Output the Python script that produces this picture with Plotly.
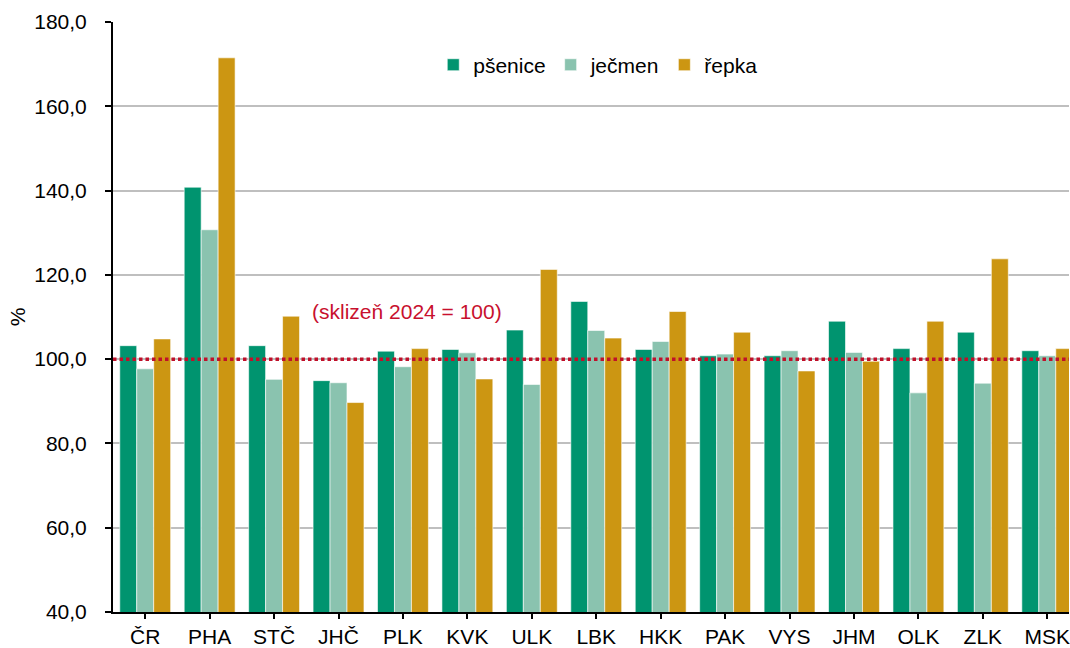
import plotly.graph_objects as go

categories = ["ČR", "PHA", "STČ", "JHČ", "PLK", "KVK", "ULK", "LBK", "HKK", "PAK", "VYS", "JHM", "OLK", "ZLK", "MSK"]
psenice = [103.2, 140.8, 103.2, 94.9, 101.9, 102.3, 106.9, 113.7, 102.3, 100.8, 100.8, 109.0, 102.5, 106.4, 102.0]
jecmen = [97.7, 130.7, 95.2, 94.4, 98.2, 101.5, 94.0, 106.8, 104.2, 101.2, 102.0, 101.6, 92.0, 94.3, 100.8]
repka = [104.8, 171.5, 110.2, 89.7, 102.5, 95.3, 121.3, 105.0, 111.3, 106.4, 97.2, 99.5, 109.0, 123.8, 102.5]
series_names = ["pšenice", "ječmen", "řepka"]
colors = ["#00946F", "#8AC3AF", "#CC9612"]
base_value = 100
y_ticks = [40, 60, 80, 100, 120, 140, 160, 180]
note_text = "(sklizeň 2024 = 100)"

FONT = "Arial, Liberation Sans, sans-serif"

fig = go.Figure()
for name, vals, col in zip(series_names, [psenice, jecmen, repka], colors):
    fig.add_trace(go.Bar(
        x=categories, y=vals, name=name,
        marker=dict(color=col, line=dict(color="rgba(255,255,255,0.6)", width=1)),
    ))

fig.add_shape(type="line", xref="paper", yref="y", x0=0, x1=1, y0=base_value, y1=base_value,
              line=dict(color="#C0102A", width=3.5, dash="3.5px,3px"), layer="above")

fig.add_annotation(x=4.07, y=111.2, xref="x", yref="y", text=note_text, showarrow=False,
                   font=dict(family=FONT, size=21, color="#C8102E"))

fig.update_layout(
    width=1070, height=648,
    margin=dict(l=113, r=0, t=22, b=34),
    paper_bgcolor="white", plot_bgcolor="white",
    separators=", ",
    barmode="group", bargap=0.21, bargroupgap=0.0,
    font=dict(family=FONT, size=21, color="black"),
    showlegend=True,
    legend=dict(orientation="h", x=0.335, y=0.927, xanchor="left", yanchor="middle",
                font=dict(family=FONT, size=21, color="black"), bgcolor="rgba(0,0,0,0)",
                itemwidth=30, traceorder="normal"),
)
fig.update_xaxes(
    type="category", range=[-0.5, 14.337],
    showline=True, linecolor="black", linewidth=2,
    ticks="outside", ticklen=5, tickcolor="black", tickwidth=1.5,
    showgrid=False, tickfont=dict(family=FONT, size=21, color="black"),
)
fig.update_yaxes(
    range=[40, 180], tickvals=y_ticks, tickformat=".1f",
    showline=True, linecolor="black", linewidth=2,
    ticks="outside", ticklen=6, tickcolor="black", tickwidth=1.5,
    showgrid=True, gridcolor="#BFBFBF", gridwidth=1.5,
    zeroline=False, ticklabelstandoff=14,
    title=dict(text="%", font=dict(family=FONT, size=21, color="black"), standoff=3),
    tickfont=dict(family=FONT, size=21, color="black"),
)

fig.write_html("out.html", config={"displayModeBar": False},
               post_script="document.body.style.margin='0';document.body.style.overflow='hidden';")
